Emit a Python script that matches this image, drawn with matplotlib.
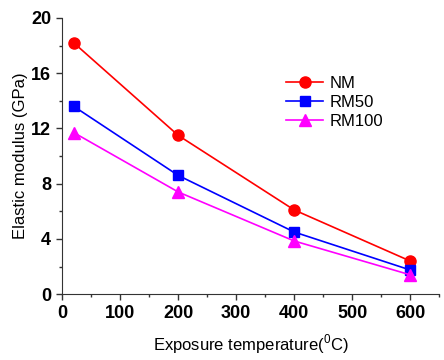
import matplotlib
matplotlib.use('Agg')
import matplotlib.pyplot as plt
from matplotlib.ticker import MultipleLocator

plt.rcParams['font.family'] = ['Liberation Sans', 'DejaVu Sans']

temperature = [20, 200, 400, 600]
nm = [18.2, 11.5, 6.1, 2.4]
rm50 = [13.6, 8.6, 4.5, 1.75]
rm100 = [11.7, 7.4, 3.85, 1.4]

fig = plt.figure(figsize=(4.44, 3.6), dpi=100)
ax = fig.add_axes([0.14, 0.183, 0.849, 0.767])

ax.plot(temperature, nm, color='#ff0000', marker='o', markersize=8, lw=1.2, label='NM')
ax.plot(temperature, rm50, color='#0000ff', marker='s', markersize=7, lw=1.2, label='RM50')
ax.plot(temperature, rm100, color='#ff00ff', marker='^', markersize=8, lw=1.2, label='RM100')

ax.set_xlim(0, 650)
ax.set_ylim(0, 20)
ax.xaxis.set_major_locator(MultipleLocator(100))
ax.xaxis.set_minor_locator(MultipleLocator(50))
ax.yaxis.set_major_locator(MultipleLocator(4))
ax.yaxis.set_minor_locator(MultipleLocator(2))
ax.spines['top'].set_visible(False)
ax.spines['right'].set_visible(False)
ax.spines['left'].set_color('#333333')
ax.spines['bottom'].set_color('#333333')
ax.tick_params(which='major', direction='out', length=4, width=1, colors='#333333', pad=4)
ax.tick_params(which='minor', direction='out', length=2.5, width=1, colors='#333333')
for lab in ax.get_xticklabels() + ax.get_yticklabels():
    lab.set_fontweight('bold')
    lab.set_fontsize(13)
    lab.set_color('black')

ax.set_xlabel('Exposure temperature($^{\\mathregular{0}}$C)', fontsize=12, labelpad=7)
ax.set_ylabel('Elastic modulus (GPa)', fontsize=12, labelpad=2)

ax.legend(loc='upper left', bbox_to_anchor=(0.555, 0.845), frameon=False, fontsize=12,
          handlelength=2.2, handletextpad=0.4, labelspacing=0.25)

fig.savefig('out.png', dpi=100)
